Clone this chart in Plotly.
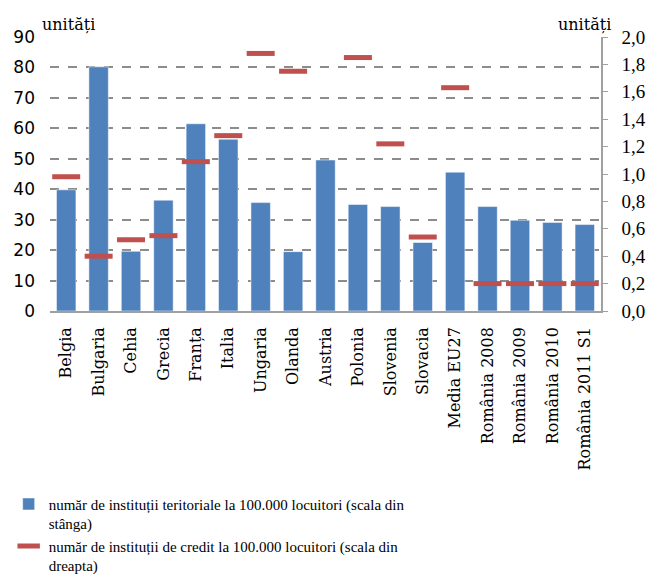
import plotly.graph_objects as go

tari = ["Belgia", "Bulgaria", "Cehia", "Grecia", "Franța", "Italia", "Ungaria",
        "Olanda", "Austria", "Polonia", "Slovenia", "Slovacia", "Media EU27",
        "România 2008", "România 2009", "România 2010", "România 2011 S1"]
teritoriale = [39.8, 80.2, 19.6, 36.4, 61.5, 56.4, 35.6, 19.5, 49.6, 35.0,
               34.3, 22.5, 45.6, 34.3, 29.8, 29.1, 28.4]
credit = [0.98, 0.40, 0.52, 0.55, 1.09, 1.28, 1.88, 1.75, None, 1.85,
          1.22, 0.54, 1.63, 0.20, 0.20, 0.20, 0.20]

serif = "Liberation Serif"

fig = go.Figure()

fig.add_trace(go.Bar(
    x=tari,
    y=teritoriale,
    name="număr de instituții teritoriale la 100.000 locuitori (scala din<br>stânga)",
    marker_color="#4f81bd",
    marker_line=dict(color="#ffffff", width=0.5),
))

fig.add_trace(go.Scatter(
    x=tari,
    y=credit,
    yaxis="y2",
    mode="markers",
    name="număr de instituții de credit la 100.000 locuitori (scala din<br>dreapta)",
    marker=dict(symbol="line-ew", size=20, line=dict(color="#c0504d", width=5)),
))

fig.update_layout(
    width=638,
    height=571,
    margin=dict(l=42, r=45, t=29, b=268, autoexpand=False),
    paper_bgcolor="white",
    plot_bgcolor="white",
    font=dict(family=serif, size=14, color="#000000"),
    separators=",.",
    bargap=0.4,
    showlegend=True,
    legend=dict(
        x=-0.075, y=-0.645, xanchor="left", yanchor="top",
        font=dict(family=serif, size=15),
        tracegroupgap=0, itemwidth=30, valign="top",
        bgcolor="rgba(0,0,0,0)",
    ),
    xaxis=dict(
        range=[-0.5, len(tari) - 0.5], automargin=False,
        tickangle=-90,
        showline=True, linecolor="#a0a0a0", linewidth=1.5,
        ticks="", showgrid=False, ticklabelstandoff=8,
        tickfont=dict(family="DejaVu Serif", size=16),
    ),
    yaxis=dict(
        range=[0, 90], dtick=10, automargin=False,
        showgrid=True, gridcolor="#8c8c8c", griddash="dash", gridwidth=1.5,
        showline=False, ticks="", zeroline=False,
        ticklabelstandoff=14,
        tickfont=dict(family="DejaVu Sans", size=17),
    ),
    yaxis2=dict(
        overlaying="y", side="right", automargin=False,
        range=[0, 2.0], dtick=0.2, tickformat=".1f",
        showgrid=False, zeroline=False,
        showline=True, linecolor="#a0a0a0", linewidth=1.5,
        ticks="outside", ticklen=5, tickcolor="#a0a0a0",
        ticklabelstandoff=10,
        tickfont=dict(family=serif, size=19),
    ),
    annotations=[
        dict(text="unități", xref="paper", yref="paper", x=-0.018, y=1.0,
             xanchor="left", yanchor="bottom", showarrow=False, yshift=1,
             font=dict(family="DejaVu Serif", size=16)),
        dict(text="unități", xref="paper", yref="paper", x=1.022, y=1.0,
             xanchor="right", yanchor="bottom", showarrow=False, yshift=1,
             font=dict(family="DejaVu Serif", size=16)),
    ],
)

fig.write_html("out.html")
